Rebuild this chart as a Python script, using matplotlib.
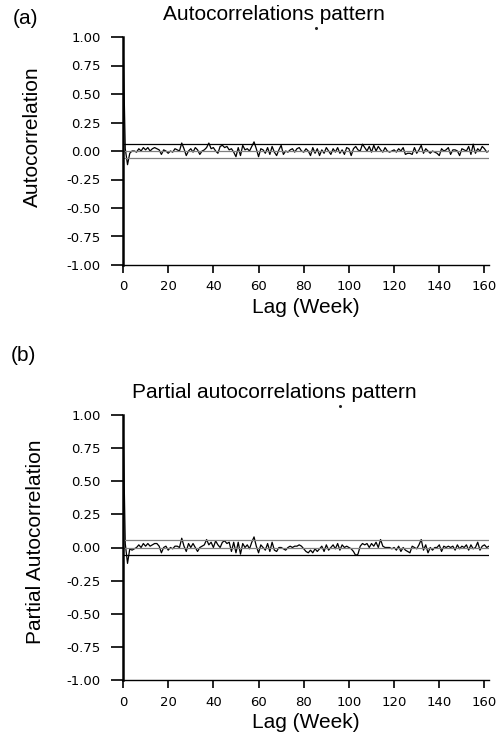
import matplotlib
matplotlib.use("Agg")
import matplotlib.pyplot as plt
from matplotlib.lines import Line2D
import numpy as np

# lag 0..162, values
acf = [1.00, 0.02, -0.12, -0.02, 0.00, 0.00, -0.01, 0.02, 0.00, 0.03,
       0.01, 0.03, 0.00, 0.02, 0.03, 0.02, 0.01, -0.03, 0.01, 0.00,
       -0.02, 0.00, -0.01, 0.02, 0.01, 0.00, 0.07, 0.02, -0.04, 0.00,
       0.02, -0.01, 0.03, 0.01, -0.03, 0.00, 0.01, 0.03, 0.07, 0.02,
       0.03, 0.00, -0.02, 0.04, 0.05, 0.03, 0.04, 0.01, 0.02, -0.01,
       -0.05, 0.03, -0.04, 0.05, 0.01, 0.02, 0.00, 0.04, 0.08, 0.02,
       -0.05, 0.02, 0.01, -0.02, 0.03, -0.03, 0.04, -0.01, -0.04, 0.01,
       0.05, -0.03, 0.00, -0.01, 0.01, 0.02, -0.01, 0.02, 0.03, 0.00,
       -0.01, 0.02, 0.00, -0.04, 0.03, -0.02, 0.02, -0.04, 0.01, -0.02,
       0.03, 0.00, -0.03, 0.02, -0.01, 0.03, -0.02, 0.01, -0.03, 0.03,
       0.02, -0.04, 0.02, 0.04, 0.01, 0.00, 0.06, 0.03, 0.00, 0.04,
       -0.01, 0.05, 0.00, 0.04, 0.01, -0.01, 0.03, 0.00, -0.01, 0.00,
       0.01, -0.01, 0.02, 0.00, 0.03, -0.03, -0.02, -0.02, -0.03, 0.03,
       -0.02, 0.01, 0.05, -0.02, 0.02, 0.00, -0.02, 0.00, -0.01, -0.02,
       -0.04, 0.02, 0.00, 0.01, 0.03, -0.03, 0.01, 0.01, 0.00, -0.04,
       0.02, 0.01, 0.00, 0.04, -0.03, 0.06, -0.02, 0.02, 0.00, 0.04,
       0.02, -0.01, 0.00]

pacf = [1.00, 0.03, -0.12, -0.01, -0.02, -0.01, 0.00, 0.02, 0.00, 0.03,
        0.01, 0.03, 0.01, 0.02, 0.03, 0.03, 0.01, -0.04, 0.00, 0.01,
        -0.02, 0.00, -0.01, 0.01, 0.01, 0.00, 0.07, 0.01, -0.03, 0.03,
        0.00, 0.03, 0.00, -0.03, 0.00, 0.01, 0.02, 0.06, 0.02, 0.04,
        0.00, 0.05, 0.02, 0.00, 0.04, 0.05, 0.03, 0.04, -0.03, 0.04,
        -0.04, 0.04, -0.05, 0.03, 0.00, 0.02, -0.01, 0.04, 0.08, 0.01,
        -0.04, 0.02, 0.00, -0.02, 0.03, -0.03, 0.04, -0.02, -0.03, 0.00,
        0.00, -0.01, -0.02, 0.00, 0.01, 0.00, 0.01, 0.01, 0.02, 0.01,
        -0.01, -0.03, -0.04, -0.02, -0.04, -0.01, -0.03, -0.01, 0.01, -0.03,
        0.02, -0.02, 0.00, 0.02, -0.01, 0.03, -0.02, 0.02, 0.00, 0.01,
        0.00, -0.01, -0.03, -0.06, -0.05, 0.01, 0.03, 0.02, 0.03, 0.00,
        0.03, 0.01, 0.04, 0.00, 0.06, 0.01, 0.00, 0.00, 0.00, -0.01,
        0.00, -0.02, 0.01, -0.03, 0.00, -0.02, -0.03, -0.04, 0.01, 0.00,
        -0.01, 0.02, 0.06, -0.02, 0.02, -0.04, 0.00, -0.02, 0.00, 0.00,
        0.02, -0.03, 0.01, 0.00, 0.01, 0.00, 0.01, -0.02, 0.02, -0.01,
        0.01, 0.00, 0.02, -0.02, 0.02, -0.01, 0.00, 0.04, -0.02, 0.01,
        0.02, 0.00, 0.01]

bound = 0.06
titles = ["Autocorrelations pattern", "Partial autocorrelations pattern"]
ylabels = ["Autocorrelation", "Partial Autocorrelation"]
panel_tags = ["(a)", "(b)"]
yticks = [-1.0, -0.75, -0.5, -0.25, 0.0, 0.25, 0.5, 0.75, 1.0]
xticks = [0, 20, 40, 60, 80, 100, 120, 140, 160]

W, H = 497, 735
fig = plt.figure(figsize=(W / 100, H / 100), dpi=100)
lab_font = "Liberation Sans"

# [left, top, width, height] in pixels
boxes = [(123, 37, 366, 228), (123, 415, 366, 265)]
title_y = [15, 393]
tag_xy = [(26, 19), (23, 356)]
dot_xy = [(316, 28), (340, 406)]
ylab_x = [-0.222, -0.213]
ylab_y = [0.561, 0.521]
upper_col = ["black", "#808080"]
lower_col = ["#808080", "black"]
xlab_pad = [4, 3]
xtick_pad = [5, 6]

for i, vals in enumerate([acf, pacf]):
    l, t, w, h = boxes[i]
    ax = fig.add_axes([l / W, 1 - (t + h) / H, w / W, h / H])
    lags = np.arange(len(vals))
    ax.plot(lags, vals, color="black", lw=0.9)
    ax.axhline(0, color="#808080", lw=0.9)
    ax.axhline(bound, color=upper_col[i], lw=0.9)
    ax.axhline(-bound, color=lower_col[i], lw=0.9)
    ax.set_xlim(0, 162)
    ax.set_ylim(-1, 1)
    ax.spines["top"].set_visible(False)
    ax.spines["right"].set_visible(False)
    ax.spines["left"].set_linewidth(1.8)
    ax.spines["bottom"].set_linewidth(1.0)
    ax.set_yticks(yticks)
    ax.set_yticklabels(["%.2f" % v for v in yticks])
    ax.set_xticks(xticks)
    ax.tick_params(axis="y", length=9, width=1.2, pad=7, labelsize=9.5)
    ax.tick_params(axis="x", length=5.5, width=1.2, pad=xtick_pad[i], labelsize=9.5)
    for lb in ax.get_xticklabels() + ax.get_yticklabels():
        lb.set_family("DejaVu Sans")
    ax.set_xlabel("Lag (Week)", fontsize=15, family=lab_font, labelpad=xlab_pad[i])
    ax.set_ylabel(ylabels[i], fontsize=15, family=lab_font)
    ax.yaxis.set_label_coords(ylab_x[i], ylab_y[i])
    fig.text(274 / W, 1 - title_y[i] / H, titles[i], fontsize=15, family=lab_font,
             ha="center", va="center")
    fig.text(tag_xy[i][0] / W, 1 - tag_xy[i][1] / H, panel_tags[i], fontsize=15,
             family=lab_font, ha="center", va="center")
    # small stray dot under the title, as in the original
    fig.add_artist(Line2D([dot_xy[i][0] / W], [1 - dot_xy[i][1] / H], marker="o",
                          markersize=1.2, color="#222222", transform=fig.transFigure))

fig.savefig("out.png", dpi=100)
